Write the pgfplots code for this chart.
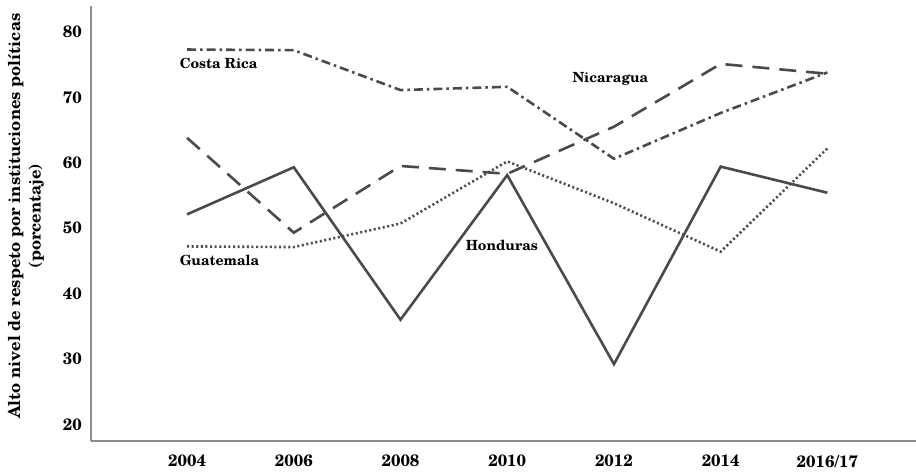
\documentclass[border=0pt]{standalone}
\usepackage{pgfplots}
\pgfplotsset{compat=1.18}
\usepackage{fontspec}
\setmainfont{TeX Gyre Schola}
\definecolor{linegray}{HTML}{4A4A4A}
\definecolor{axisgray}{HTML}{8C8C8C}
\begin{document}
\begin{tikzpicture}
\begin{axis}[
    scale only axis,
    width=825bp, height=435bp,
    xmin=-0.9, xmax=6.83, ymin=17.5, ymax=84,
    axis x line=bottom, axis y line=left,
    axis line style={-, axisgray, line width=2bp},
    major tick length=0pt,
    xtick={0,1,2,3,4,5,6},
    xticklabels={2004,2006,2008,2010,2012,2014,2016/17},
    ytick={20,30,40,50,60,70,80},
    tick label style={font=\fontsize{16.5bp}{18bp}\selectfont\bfseries, inner sep=0pt},
    /pgf/number format/assume math mode=true,
    xticklabel style={anchor=north, yshift=-14bp},
    yticklabel style={anchor=east, xshift=-9bp},
    ylabel={Alto nivel de respeto por instituciones políticas\\(porcentaje)},
    ylabel style={at={(axis description cs:0,0.5)}, anchor=center, align=center,
        xshift=7bp, yshift=65bp,
        font=\fontsize{16.5bp}{20.5bp}\selectfont\bfseries},
    clip=false,
    every axis plot/.append style={line width=2.6bp, color=linegray},
]
% Honduras
\addplot[solid] coordinates
  {(0,52.1) (1,59.3) (2,36.0) (3,58.1) (4,29.2) (5,59.4) (6,55.4)};
% Costa Rica
\addplot[dash pattern=on 9bp off 4bp on 2.5bp off 4bp] coordinates
  {(0,77.3) (1,77.2) (2,71.1) (3,71.6) (4,60.6) (5,67.6) (6,73.8)};
% Nicaragua
\addplot[dash pattern=on 17bp off 10bp] coordinates
  {(0,63.8) (1,49.3) (2,59.5) (3,58.3) (4,65.5) (5,75.1) (6,73.6)};
% Guatemala
\addplot[dash pattern=on 2bp off 2.6bp] coordinates
  {(0,47.2) (1,47.1) (2,50.7) (3,60.2) (4,53.8) (5,46.4) (6,62.2)};
\begin{scope}[every node/.style={font=\fontsize{14bp}{16bp}\selectfont\bfseries, inner sep=0pt, anchor=west}]
\node at (axis cs:-0.07,75.1) {Costa Rica};
\node at (axis cs:3.61,72.85) {Nicaragua};
\node at (axis cs:-0.07,45.0) {Guatemala};
\node at (axis cs:2.61,47.3) {Honduras};
\end{scope}
\end{axis}
\pgfresetboundingbox
\path (current axis.south west) ++(-91bp,-31.3bp) rectangle ++(916bp,472bp);
\end{tikzpicture}
\end{document}
